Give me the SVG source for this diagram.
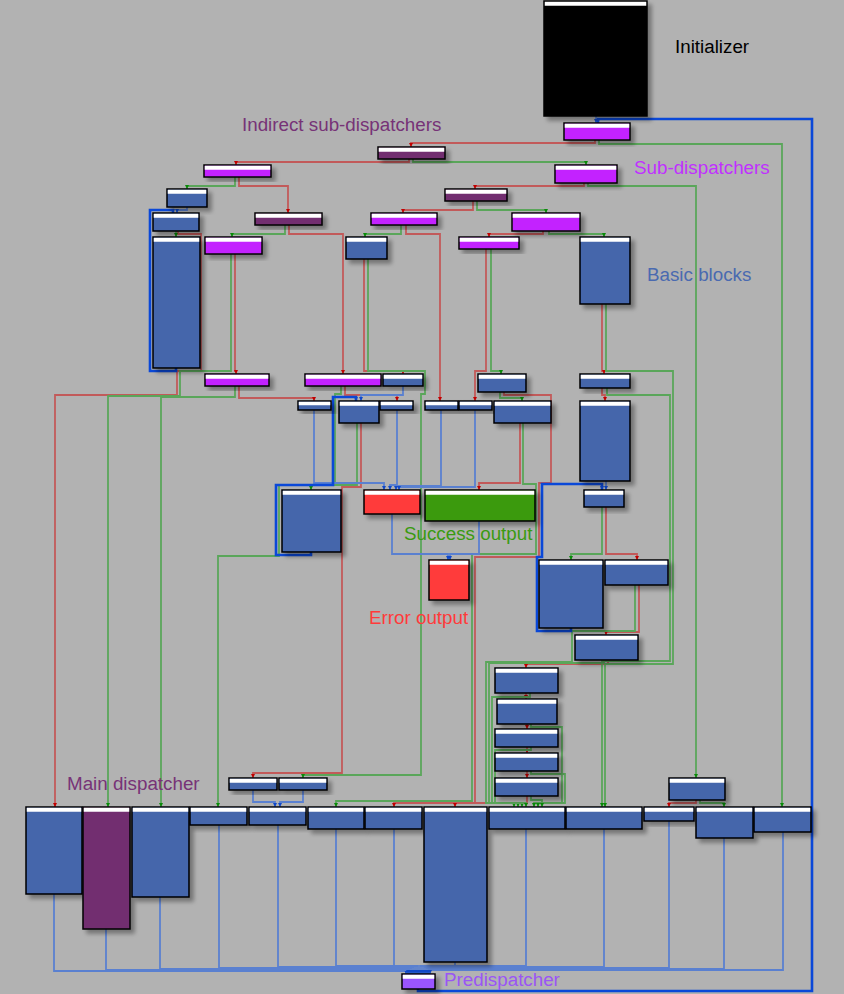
<svg xmlns="http://www.w3.org/2000/svg" width="844" height="994" viewBox="0 0 844 994">
<defs>
<filter id="sh" x="-20%" y="-20%" width="160%" height="160%"><feDropShadow dx="4" dy="4" stdDeviation="2" flood-color="#000" flood-opacity="0.35"/></filter>
<marker id="mr" viewBox="0 0 6 6" refX="6" refY="3" markerWidth="4" markerHeight="4" orient="auto" markerUnits="userSpaceOnUse"><path d="M0,0 L6,3 L0,6 z" fill="#c00000"/></marker>
<marker id="mg" viewBox="0 0 6 6" refX="6" refY="3" markerWidth="4" markerHeight="4" orient="auto" markerUnits="userSpaceOnUse"><path d="M0,0 L6,3 L0,6 z" fill="#0a8a0a"/></marker>
<marker id="mb" viewBox="0 0 6 6" refX="6" refY="3" markerWidth="4" markerHeight="4" orient="auto" markerUnits="userSpaceOnUse"><path d="M0,0 L6,3 L0,6 z" fill="#1048c8"/></marker>
<style>
.e{fill:none;stroke-width:1.8;stroke-linejoin:miter}
.r{stroke:#c25a5a;marker-end:url(#mr)}
.g{stroke:#5aa65a;marker-end:url(#mg)}
.l{stroke:#5a80d0;marker-end:url(#mb)}
.k{stroke:#0a48d8;stroke-width:2.6;marker-end:url(#mb)}
.n rect.b{stroke:#000;stroke-width:1.5;filter:url(#sh)}
.n rect.h{fill:#fff}
.bl{fill:#4466ab}.mg{fill:#c322ff}.dp{fill:#722f70}.bk{fill:#000}.rd{fill:#ff3a3a}.gr{fill:#3a9a0c}.vi{fill:#9a55ff}
.t{font-family:"Liberation Sans",Arial,sans-serif;font-size:18.8px}
</style>
</defs>
<rect width="844" height="994" fill="#b2b2b2"/>
<g id="connectors">
<path class="e r" d="M595,140 V143 H411 V147"/>
<path class="e r" d="M409,159 V162 H236 V165"/>
<path class="e r" d="M239,177 V186 H288 V213"/>
<path class="e r" d="M584,183 V186 H475 V189"/>
<path class="e r" d="M473,201 V210 H403 V213"/>
<path class="e r" d="M289,225 V234 H343 V374"/>
<path class="e r" d="M406,225 V234 H440 V401"/>
<path class="e r" d="M543,231 V234 H489 V237"/>
<path class="e r" d="M486,249 V371 H475 V401"/>
<path class="e r" d="M364,259 V371 H403 V374"/>
<path class="e r" d="M178,231 V234 H201 V371 H177 V395 H55 V807"/>
<path class="e r" d="M235,254 V371 H236 V374"/>
<path class="e r" d="M239,386 V398 H314 V401"/>
<path class="e r" d="M345,386 V395 H397 V401"/>
<path class="e r" d="M602,304 V371 H604 V374"/>
<path class="e r" d="M602,388 V395 H605 V401"/>
<path class="e r" d="M504,392 V395 H551 V483 H539 V557 H475 V803 H394 V807"/>
<path class="e r" d="M361,423 V487 H342 V773 H253 V778"/>
<path class="e r" d="M520,423 V483 H479 V490"/>
<path class="e r" d="M606,507 V554 H637 V560"/>
<path class="e r" d="M639,585 V632 H606 V635"/>
<path class="e r" d="M608,660 V664 H526 V668"/>
<path class="e r" d="M526,693 V699"/>
<path class="e r" d="M527,724 V729"/>
<path class="e r" d="M527,747 V753"/>
<path class="e r" d="M527,771 V778"/>
<path class="e r" d="M527,796 V803 H455 V807"/>
<path class="e r" d="M696,800 V803 H669 V807"/>
<path class="e g" d="M599,140 V144 H782 V807"/>
<path class="e g" d="M413,159 V162 H586 V165"/>
<path class="e g" d="M235,177 V186 H187 V189"/>
<path class="e g" d="M588,183 V186 H696 V778"/>
<path class="e g" d="M477,201 V210 H546 V213"/>
<path class="e g" d="M285,225 V234 H232 V237"/>
<path class="e g" d="M401,225 V234 H365 V237"/>
<path class="e g" d="M549,231 V234 H604 V237"/>
<path class="e g" d="M176,231 V237"/>
<path class="e g" d="M231,254 V371 H180 V396 H108 V807"/>
<path class="e g" d="M491,249 V371 H501 V374"/>
<path class="e g" d="M368,259 V371 H425 V394 H421 V775 H303 V778"/>
<path class="e g" d="M606,304 V371 H673 V664 H605 V807"/>
<path class="e g" d="M607,388 V395 H670 V661 H602 V807"/>
<path class="e g" d="M235,386 V397 H161 V807"/>
<path class="e g" d="M341,386 V394 H335 V485 H279 V556 H218 V807"/>
<path class="e g" d="M500,392 V398 H522 V401"/>
<path class="e g" d="M357,423 V485 H311 V490"/>
<path class="e g" d="M523,423 V484 H536 V554 H472 V801 H336 V807"/>
<path class="e g" d="M602,507 V554 H571 V560"/>
<path class="e g" d="M635,585 V631 H572 V662 H486 V803 H514 V807"/>
<path class="e g" d="M604,660 V663 H489 V803 H518 V807"/>
<path class="e g" d="M530,693 V697 H492 V803 H522 V807"/>
<path class="e g" d="M531,724 V727 H562 V803 H534 V807"/>
<path class="e g" d="M531,747 V750 H495 V803 H526 V807"/>
<path class="e g" d="M531,771 V774 H565 V803 H538 V807"/>
<path class="e g" d="M531,796 V800 H542 V807"/>
<path class="e g" d="M700,800 V803 H724 V807"/>
<path class="e l" d="M596,116 V123"/>
<path class="e l" d="M187,207 V210 H177 V213"/>
<path class="e l" d="M403,386 V395 H361 V401"/>
<path class="e l" d="M314,410 V483 H384 V490"/>
<path class="e l" d="M397,410 V485 H390 V490"/>
<path class="e l" d="M441,410 V486 H396 V490"/>
<path class="e l" d="M475,410 V487 H399 V490"/>
<path class="e l" d="M392,514 V554 H448 V560"/>
<path class="e l" d="M479,521 V554 H450 V560"/>
<path class="e l" d="M606,481 V490"/>
<path class="e l" d="M253,790 V802 H275 V807"/>
<path class="e l" d="M303,790 V802 H280 V807"/>
<path class="e l" d="M54,894 V971 H406 V974"/>
<path class="e l" d="M106,929 V970 H408 V974"/>
<path class="e l" d="M160,897 V969 H410 V974"/>
<path class="e l" d="M219,825 V968 H412 V974"/>
<path class="e l" d="M278,825 V967 H414 V974"/>
<path class="e l" d="M336,829 V966 H416 V974"/>
<path class="e l" d="M394,829 V966 H418 V974"/>
<path class="e l" d="M455,962 V966 H420 V974"/>
<path class="e l" d="M526,829 V966 H422 V974"/>
<path class="e l" d="M604,829 V967 H424 V974"/>
<path class="e l" d="M669,821 V968 H426 V974"/>
<path class="e l" d="M724,838 V969 H428 V974"/>
<path class="e l" d="M783,832 V970 H430 V974"/>
<path class="e k" d="M176,368 V371 H150 V210 H173 V213"/>
<path class="e k" d="M311,552 V555 H276 V485 H333 V397 H356 V401"/>
<path class="e k" d="M571,628 V631 H537 V557 H542 V484 H602 V490"/>
<path class="e k" d="M418,989 V991 H812 V119 H598 V123"/>
</g>
<g id="init" class="n"><rect class="b bk" x="544" y="1" width="103" height="115"/><rect class="h" x="544.75" y="1.75" width="101.5" height="4"/></g>
<g id="d0" class="n"><rect class="b mg" x="564" y="123" width="66" height="17"/><rect class="h" x="564.75" y="123.75" width="64.5" height="4"/></g>
<g id="i1" class="n"><rect class="b dp" x="378" y="147" width="67" height="12"/><rect class="h" x="378.75" y="147.75" width="65.5" height="4"/></g>
<g id="s1" class="n"><rect class="b mg" x="204" y="165" width="67" height="12"/><rect class="h" x="204.75" y="165.75" width="65.5" height="4"/></g>
<g id="s2" class="n"><rect class="b mg" x="555" y="165" width="62" height="18"/><rect class="h" x="555.75" y="165.75" width="60.5" height="4"/></g>
<g id="b1" class="n"><rect class="b bl" x="167" y="189" width="40" height="18"/><rect class="h" x="167.75" y="189.75" width="38.5" height="4"/></g>
<g id="i2" class="n"><rect class="b dp" x="445" y="189" width="62" height="12"/><rect class="h" x="445.75" y="189.75" width="60.5" height="4"/></g>
<g id="b2" class="n"><rect class="b bl" x="153" y="213" width="46" height="18"/><rect class="h" x="153.75" y="213.75" width="44.5" height="4"/></g>
<g id="i3" class="n"><rect class="b dp" x="255" y="213" width="67" height="12"/><rect class="h" x="255.75" y="213.75" width="65.5" height="4"/></g>
<g id="s3" class="n"><rect class="b mg" x="371" y="213" width="66" height="12"/><rect class="h" x="371.75" y="213.75" width="64.5" height="4"/></g>
<g id="s4" class="n"><rect class="b mg" x="512" y="213" width="68" height="18"/><rect class="h" x="512.75" y="213.75" width="66.5" height="4"/></g>
<g id="b3" class="n"><rect class="b bl" x="153" y="237" width="47" height="131"/><rect class="h" x="153.75" y="237.75" width="45.5" height="4"/></g>
<g id="s5" class="n"><rect class="b mg" x="205" y="237" width="57" height="17"/><rect class="h" x="205.75" y="237.75" width="55.5" height="4"/></g>
<g id="b4" class="n"><rect class="b bl" x="346" y="237" width="41" height="22"/><rect class="h" x="346.75" y="237.75" width="39.5" height="4"/></g>
<g id="s6" class="n"><rect class="b mg" x="459" y="237" width="60" height="12"/><rect class="h" x="459.75" y="237.75" width="58.5" height="4"/></g>
<g id="b5" class="n"><rect class="b bl" x="580" y="237" width="50" height="67"/><rect class="h" x="580.75" y="237.75" width="48.5" height="4"/></g>
<g id="s7" class="n"><rect class="b mg" x="205" y="374" width="64" height="12"/><rect class="h" x="205.75" y="374.75" width="62.5" height="4"/></g>
<g id="s8" class="n"><rect class="b mg" x="305" y="374" width="76" height="12"/><rect class="h" x="305.75" y="374.75" width="74.5" height="4"/></g>
<g id="b6" class="n"><rect class="b bl" x="383" y="374" width="40" height="12"/><rect class="h" x="383.75" y="374.75" width="38.5" height="4"/></g>
<g id="b7" class="n"><rect class="b bl" x="478" y="374" width="48" height="18"/><rect class="h" x="478.75" y="374.75" width="46.5" height="4"/></g>
<g id="b8" class="n"><rect class="b bl" x="580" y="374" width="50" height="14"/><rect class="h" x="580.75" y="374.75" width="48.5" height="4"/></g>
<g id="b9" class="n"><rect class="b bl" x="298" y="401" width="33" height="9"/><rect class="h" x="298.75" y="401.75" width="31.5" height="3.5"/></g>
<g id="b10" class="n"><rect class="b bl" x="339" y="401" width="40" height="22"/><rect class="h" x="339.75" y="401.75" width="38.5" height="4"/></g>
<g id="b11" class="n"><rect class="b bl" x="380" y="401" width="33" height="9"/><rect class="h" x="380.75" y="401.75" width="31.5" height="3.5"/></g>
<g id="b12" class="n"><rect class="b bl" x="425" y="401" width="33" height="9"/><rect class="h" x="425.75" y="401.75" width="31.5" height="3.5"/></g>
<g id="b13" class="n"><rect class="b bl" x="459" y="401" width="33" height="9"/><rect class="h" x="459.75" y="401.75" width="31.5" height="3.5"/></g>
<g id="b14" class="n"><rect class="b bl" x="494" y="401" width="57" height="22"/><rect class="h" x="494.75" y="401.75" width="55.5" height="4"/></g>
<g id="b15" class="n"><rect class="b bl" x="580" y="401" width="50" height="80"/><rect class="h" x="580.75" y="401.75" width="48.5" height="4"/></g>
<g id="b16" class="n"><rect class="b bl" x="282" y="490" width="59" height="62"/><rect class="h" x="282.75" y="490.75" width="57.5" height="4"/></g>
<g id="err1" class="n"><rect class="b rd" x="364" y="490" width="56" height="24"/><rect class="h" x="364.75" y="490.75" width="54.5" height="4"/></g>
<g id="succ" class="n"><rect class="b gr" x="425" y="490" width="110" height="31"/><rect class="h" x="425.75" y="490.75" width="108.5" height="4"/></g>
<g id="b17" class="n"><rect class="b bl" x="584" y="490" width="40" height="17"/><rect class="h" x="584.75" y="490.75" width="38.5" height="4"/></g>
<g id="err2" class="n"><rect class="b rd" x="429" y="560" width="40" height="40"/><rect class="h" x="429.75" y="560.75" width="38.5" height="4"/></g>
<g id="b18" class="n"><rect class="b bl" x="539" y="560" width="64" height="68"/><rect class="h" x="539.75" y="560.75" width="62.5" height="4"/></g>
<g id="b19" class="n"><rect class="b bl" x="605" y="560" width="63" height="25"/><rect class="h" x="605.75" y="560.75" width="61.5" height="4"/></g>
<g id="b20" class="n"><rect class="b bl" x="575" y="635" width="63" height="25"/><rect class="h" x="575.75" y="635.75" width="61.5" height="4"/></g>
<g id="b21" class="n"><rect class="b bl" x="495" y="668" width="63" height="25"/><rect class="h" x="495.75" y="668.75" width="61.5" height="4"/></g>
<g id="b22" class="n"><rect class="b bl" x="497" y="699" width="60" height="25"/><rect class="h" x="497.75" y="699.75" width="58.5" height="4"/></g>
<g id="b23" class="n"><rect class="b bl" x="495" y="729" width="63" height="18"/><rect class="h" x="495.75" y="729.75" width="61.5" height="4"/></g>
<g id="b24" class="n"><rect class="b bl" x="495" y="753" width="63" height="18"/><rect class="h" x="495.75" y="753.75" width="61.5" height="4"/></g>
<g id="b25" class="n"><rect class="b bl" x="495" y="778" width="63" height="18"/><rect class="h" x="495.75" y="778.75" width="61.5" height="4"/></g>
<g id="b26" class="n"><rect class="b bl" x="229" y="778" width="48" height="12"/><rect class="h" x="229.75" y="778.75" width="46.5" height="4"/></g>
<g id="b27" class="n"><rect class="b bl" x="279" y="778" width="48" height="12"/><rect class="h" x="279.75" y="778.75" width="46.5" height="4"/></g>
<g id="b28" class="n"><rect class="b bl" x="669" y="778" width="56" height="22"/><rect class="h" x="669.75" y="778.75" width="54.5" height="4"/></g>
<g id="m1" class="n"><rect class="b bl" x="26" y="807" width="56" height="87"/><rect class="h" x="26.75" y="807.75" width="54.5" height="4"/></g>
<g id="m2" class="n"><rect class="b dp" x="83" y="807" width="47" height="122"/><rect class="h" x="83.75" y="807.75" width="45.5" height="4"/></g>
<g id="m3" class="n"><rect class="b bl" x="132" y="807" width="57" height="90"/><rect class="h" x="132.75" y="807.75" width="55.5" height="4"/></g>
<g id="m4" class="n"><rect class="b bl" x="190" y="807" width="57" height="18"/><rect class="h" x="190.75" y="807.75" width="55.5" height="4"/></g>
<g id="m5" class="n"><rect class="b bl" x="249" y="807" width="57" height="18"/><rect class="h" x="249.75" y="807.75" width="55.5" height="4"/></g>
<g id="m6" class="n"><rect class="b bl" x="308" y="807" width="56" height="22"/><rect class="h" x="308.75" y="807.75" width="54.5" height="4"/></g>
<g id="m7" class="n"><rect class="b bl" x="365" y="807" width="57" height="22"/><rect class="h" x="365.75" y="807.75" width="55.5" height="4"/></g>
<g id="m8" class="n"><rect class="b bl" x="424" y="807" width="63" height="155"/><rect class="h" x="424.75" y="807.75" width="61.5" height="4"/></g>
<g id="m9" class="n"><rect class="b bl" x="489" y="807" width="76" height="22"/><rect class="h" x="489.75" y="807.75" width="74.5" height="4"/></g>
<g id="m10" class="n"><rect class="b bl" x="566" y="807" width="76" height="22"/><rect class="h" x="566.75" y="807.75" width="74.5" height="4"/></g>
<g id="m11" class="n"><rect class="b bl" x="644" y="807" width="50" height="14"/><rect class="h" x="644.75" y="807.75" width="48.5" height="4"/></g>
<g id="m12" class="n"><rect class="b bl" x="696" y="807" width="57" height="31"/><rect class="h" x="696.75" y="807.75" width="55.5" height="4"/></g>
<g id="m13" class="n"><rect class="b bl" x="754" y="807" width="57" height="25"/><rect class="h" x="754.75" y="807.75" width="55.5" height="4"/></g>
<g id="pre" class="n"><rect class="b vi" x="402" y="974" width="33" height="15"/><rect class="h" x="402.75" y="974.75" width="31.5" height="4"/></g>
<g id="labels">
<text class="t" x="675" y="53" fill="#000">Initializer</text>
<text class="t" x="242" y="131" fill="#773377">Indirect sub-dispatchers</text>
<text class="t" x="634" y="174" fill="#c030ff">Sub-dispatchers</text>
<text class="t" x="647" y="281" fill="#4a6ab0">Basic blocks</text>
<text class="t" x="404" y="540" fill="#3a9a10">Success output</text>
<text class="t" x="369" y="624" fill="#ff3a3a">Error output</text>
<text class="t" x="67" y="790" fill="#773377">Main dispatcher</text>
<text class="t" x="444" y="986" fill="#9a55f5">Predispatcher</text>
</g>
</svg>
